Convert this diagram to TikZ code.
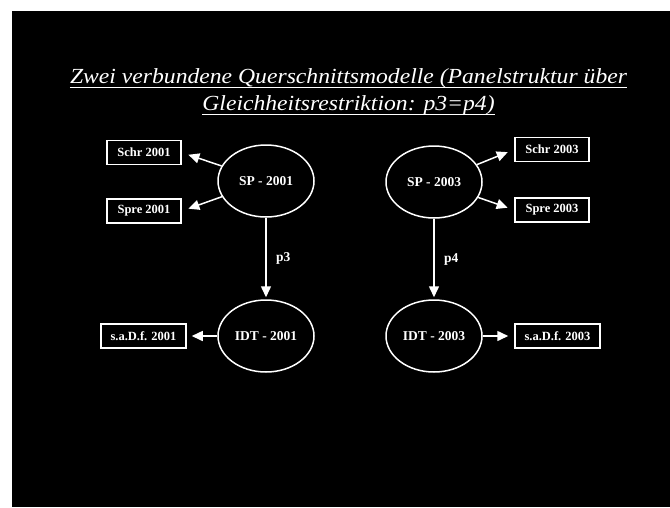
\documentclass[tikz,border=0pt]{standalone}
\usepackage{fontspec}
\setmainfont{Liberation Serif}
\usetikzlibrary{arrows.meta,shapes.geometric}
\begin{document}
\begin{tikzpicture}[x=1pt,y=-1pt,
  every node/.style={text=white},
  latent/.style={draw=white, line width=1.5pt, ellipse, minimum width=96pt,
    minimum height=72pt, inner sep=0pt, font=\bfseries\fontsize{13.5}{15}\selectfont},
  indicator/.style={draw=white, line width=1.5pt, rectangle, minimum height=24pt,
    inner sep=0pt, font=\bfseries\fontsize{12.5}{14}\selectfont},
  link/.style={draw=white, line width=1.5pt, -{Triangle[length=11pt,width=10pt]}},
  pathlabel/.style={font=\bfseries\fontsize{13.5}{15}\selectfont, anchor=west},
  heading/.style={font=\itshape\fontsize{21.5}{23}\selectfont, anchor=base,
    inner sep=0pt, xscale=1.1},
  headrule/.style={draw=white, line width=1.5pt},
  ]
\useasboundingbox (0,0) rectangle (670,507);
\fill[white] (0,0) rectangle (670,507);
\fill[black] (12,11) rectangle (670,507);

% title, underlined line by line
\node[heading] (t1) at (348.5,83) {Zwei verbundene Querschnittsmodelle (Panelstruktur über};
\node[heading] (t2) at (348.5,110) {Gleichheitsrestriktion: p3=p4)};
\draw[headrule] ([yshift=-4.5pt]t1.base west) -- ([yshift=-4.5pt]t1.base east);
\draw[headrule] ([yshift=-4.5pt]t2.base west) -- ([yshift=-4.5pt]t2.base east);

% latent variables
\node[latent] (sp1)  at (266,181) {SP - 2001};
\node[latent] (sp3)  at (434,182) {SP - 2003};
\node[latent] (idt1) at (266,336) {IDT - 2001};
\node[latent] (idt3) at (434,336) {IDT - 2003};

% indicators
\node[indicator, minimum width=74pt] (schr1) at (144,152.5) {Schr 2001};
\node[indicator, minimum width=74pt] (spre1) at (144,211)   {Spre 2001};
\node[indicator, minimum width=74pt] (schr3) at (552,149.5) {Schr 2003};
\node[indicator, minimum width=74pt] (spre3) at (552,210)   {Spre 2003};
\node[indicator, minimum width=85pt] (sadf1) at (143.5,336) {s.a.D.f. 2001};
\node[indicator, minimum width=85pt] (sadf3) at (557.5,336) {s.a.D.f. 2003};

% measurement paths
\draw[link, shorten >=7pt] (sp1) -- (schr1.east);
\draw[link, shorten >=7pt] (sp1) -- (spre1.east);
\draw[link, shorten >=7pt] (sp3) -- (schr3.west);
\draw[link, shorten >=7pt] (sp3) -- (spre3.west);
\draw[link, shorten >=5pt] (idt1) -- (sadf1);
\draw[link, shorten >=6pt] (idt3) -- (sadf3);

% structural paths
\draw[link, shorten >=2pt] (sp1) -- node[pathlabel, xshift=6pt] (p3) {p3} (idt1);
\draw[link, shorten >=2pt] (sp3) -- node[pathlabel, xshift=6pt] (p4) {p4} (idt3);
\end{tikzpicture}
\end{document}
